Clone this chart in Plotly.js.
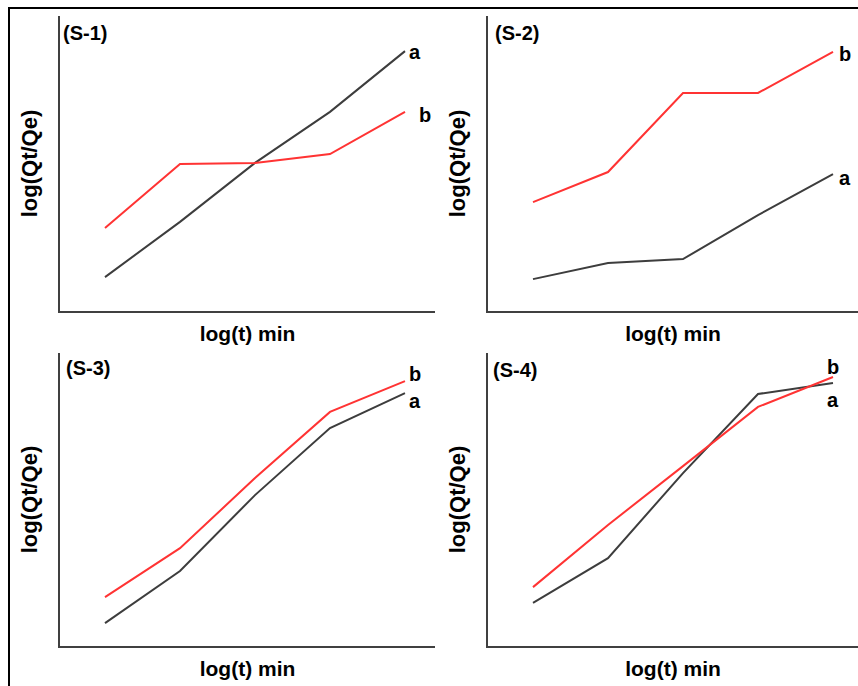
<!DOCTYPE html>
<html>
<head>
<meta charset="utf-8">
<script src="https://cdn.plot.ly/plotly-3.0.1.min.js"></script>
<style>html,body{margin:0;padding:0;background:#fff;}#chart{width:858px;height:686px;}</style>
</head>
<body>
<div id="chart"></div>
<script>
// time steps (log t, arbitrary units as in the figure: no tick labels)
var steps = [1, 2, 3, 4, 5];

// S-1
var s1a = [11.5, 30.2, 50.2, 67.5, 88.1];
var s1b = [28.1, 49.8, 50.2, 53.2, 67.5];
// S-2
var s2a = [10.8, 16.3, 17.6, 32.5, 46.4];
var s2b = [36.9, 47.1, 73.9, 73.9, 87.8];
// S-3
var s3a = [7.8, 25.6, 51.5, 74.4, 86.3];
var s3b = [16.7, 33.4, 57.3, 79.9, 90.4];
// S-4
var s4a = [14.7, 30.0, 59.0, 86.0, 89.8];
var s4b = [20.1, 41.3, 61.4, 81.6, 91.8];

var panelNames = ["(S-1)", "(S-2)", "(S-3)", "(S-4)"];
var seriesA = [s1a, s2a, s3a, s4a];
var seriesB = [s1b, s2b, s3b, s4b];
var xTitle = "log(t) min";
var yTitle = "log(Qt/Qe)";

var W = 858, H = 686;
function px(x){ return x / W; }
function py(y){ return 1 - y / H; }

var colA = "#3d3d3d";
var colB = "#ff3333";
var FONT = "Liberation Sans, Arial, sans-serif";

// panel geometry in pixels: [left, right, top, bottom]
var boxes = [
  [60, 435, 16, 311],
  [488, 858, 16, 311],
  [60, 435, 353, 646],
  [488, 858, 353, 646]
];

var data = [];
var layout = {
  width: W, height: H,
  margin: {l: 0, r: 0, t: 0, b: 0},
  paper_bgcolor: "#ffffff",
  plot_bgcolor: "rgba(0,0,0,0)",
  showlegend: false,
  font: {family: FONT, color: "#000000", size: 20},
  annotations: [],
  shapes: [{
    type: "rect", xref: "paper", yref: "paper",
    x0: px(9), x1: 1.05, y0: -0.05, y1: py(8),
    line: {color: "#000000", width: 2}, fillcolor: "rgba(0,0,0,0)"
  }]
};

// label positions of "a"/"b" in data coordinates of each panel
var labA = [[5.13, 87.8], [5.16, 45.1], [5.13, 83.6], [5.0, 84.0]];
var labB = [[5.27, 66.4], [5.16, 87.1], [5.13, 92.8], [5.0, 95.2]];
var namePos = [[61, 33], [493, 33], [64, 368], [491, 370]];

for (var i = 0; i < 4; i++) {
  var b = boxes[i];
  var xr = [0.4, 0.4 + (b[1] - b[0]) / 75];
  var xa = "x" + (i === 0 ? "" : (i + 1));
  var ya = "y" + (i === 0 ? "" : (i + 1));
  var xk = "xaxis" + (i === 0 ? "" : (i + 1));
  var yk = "yaxis" + (i === 0 ? "" : (i + 1));

  data.push({x: steps, y: seriesA[i], xaxis: xa, yaxis: ya, mode: "lines",
             line: {color: colA, width: 2}, name: "a", hoverinfo: "skip"});
  data.push({x: steps, y: seriesB[i], xaxis: xa, yaxis: ya, mode: "lines",
             line: {color: colB, width: 2}, name: "b", hoverinfo: "skip"});

  layout[xk] = {
    domain: [px(b[0]), Math.min(1, px(b[1]))],
    range: xr, anchor: ya,
    showline: true, linecolor: "#404040", linewidth: 2,
    showgrid: false, zeroline: false, showticklabels: false, ticks: "",
    fixedrange: true,
    title: {text: "<b>" + xTitle + "</b>", font: {family: FONT, size: 21, color: "#000"}, standoff: 14}
  };
  layout[yk] = {
    domain: [py(b[3]), py(b[2])],
    range: [0, 100], anchor: xa,
    showline: true, linecolor: "#404040", linewidth: 2,
    showgrid: false, zeroline: false, showticklabels: false, ticks: "",
    fixedrange: true,
    title: {text: "<b>" + yTitle + "</b>", font: {family: FONT, size: 22, color: "#000"}, standoff: 14}
  };

  layout.annotations.push({xref: xa, yref: ya, x: labA[i][0], y: labA[i][1],
    text: "<b>a</b>", showarrow: false, xanchor: "center", yanchor: "middle",
    font: {family: FONT, size: 20, color: "#000"}});
  layout.annotations.push({xref: xa, yref: ya, x: labB[i][0], y: labB[i][1],
    text: "<b>b</b>", showarrow: false, xanchor: "center", yanchor: "middle",
    font: {family: FONT, size: 20, color: "#000"}});
  layout.annotations.push({xref: "paper", yref: "paper", x: px(namePos[i][0]), y: py(namePos[i][1]),
    text: "<b>" + panelNames[i] + "</b>", showarrow: false, xanchor: "left", yanchor: "middle",
    font: {family: FONT, size: 20, color: "#000"}});
}

Plotly.newPlot("chart", data, layout, {staticPlot: true, displayModeBar: false});
</script>
</body>
</html>
